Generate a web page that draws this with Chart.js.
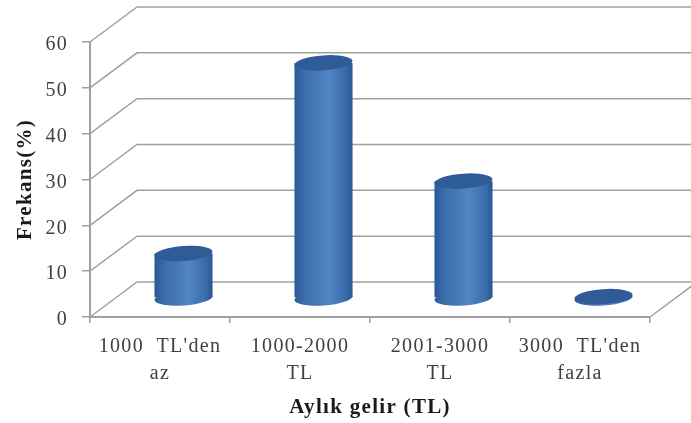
<!DOCTYPE html>
<html>
<head>
<meta charset="utf-8">
<style>
  html, body { margin: 0; padding: 0; background: #fff; }
  canvas { display: block; filter: blur(0.5px); }
</style>
<script src="https://cdn.jsdelivr.net/npm/chart.js@4"></script>
</head>
<body>
<canvas id="myChart" width="691" height="423"></canvas>
<script>
const categories = [["1000  TL'den", "az"], ["1000-2000", "TL"], ["2001-3000", "TL"], ["3000  TL'den", "fazla"]];
const frequencies = [9.7, 51.3, 25.5, 0.3];
const yTicks = [0, 10, 20, 30, 40, 50, 60];

const GRID_COLOR = "#a0a0a0";
const TEXT_COLOR = "#404040";
const depth = { x: 47, y: -35 };
const barShift = { x: 23.5, y: -19 };
const capHeight = 7.5;
const capTilt = -0.07;

const sideGradient = (ctx, x, width) => {
  const gradient = ctx.createLinearGradient(x - width / 2, 0, x + width / 2, 0);
  gradient.addColorStop(0, "#2b5b96");
  gradient.addColorStop(0.2, "#3d6fae");
  gradient.addColorStop(0.6, "#5285c5");
  gradient.addColorStop(0.88, "#3a6bab");
  gradient.addColorStop(1, "#2a5890");
  return gradient;
};

const spacingPlugin = {
  id: "spacing",
  beforeDraw(chart) {
    chart.ctx.letterSpacing = "1.3px";
  },
};

const wallPlugin = {
  id: "wall",
  beforeDatasetsDraw(chart) {
    const { ctx, scales, chartArea } = chart;
    ctx.save();
    ctx.strokeStyle = GRID_COLOR;
    ctx.lineWidth = 1.5;
    yTicks.forEach((tick) => {
      const y = scales.y.getPixelForValue(tick);
      ctx.beginPath();
      ctx.moveTo(chartArea.left, y);
      ctx.lineTo(chartArea.left + depth.x, y + depth.y);
      ctx.lineTo(chart.width, y + depth.y);
      ctx.stroke();
    });
    const floorY = scales.y.getPixelForValue(0);
    ctx.beginPath();
    ctx.moveTo(chartArea.right, floorY);
    ctx.lineTo(chartArea.right + depth.x, floorY + depth.y);
    ctx.stroke();
    ctx.restore();
  },
};

const cylinderPlugin = {
  id: "cylinder",
  beforeDatasetDraw(chart) {
    const { ctx, scales } = chart;
    ctx.save();
    ctx.translate(barShift.x, barShift.y);
    const base = scales.y.getPixelForValue(0);
    chart.getDatasetMeta(0).data.forEach((bar) => {
      ctx.beginPath();
      ctx.ellipse(bar.x, base, bar.width / 2, capHeight, capTilt, 0, Math.PI * 2);
      ctx.fillStyle = sideGradient(ctx, bar.x, bar.width);
      ctx.fill();
    });
  },
  afterDatasetDraw(chart) {
    const { ctx } = chart;
    chart.getDatasetMeta(0).data.forEach((bar) => {
      ctx.beginPath();
      ctx.ellipse(bar.x, bar.y, bar.width / 2, capHeight, capTilt, 0, Math.PI * 2);
      ctx.fillStyle = "#2f5c96";
      ctx.fill();
    });
    ctx.restore();
  },
};

const config = {
  type: "bar",
  data: {
    labels: categories,
    datasets: [
      {
        data: frequencies,
        borderWidth: 0,
        barPercentage: 0.83,
        categoryPercentage: 0.5,
        clip: false,
        backgroundColor: (context) => {
          const { chart, dataIndex } = context;
          if (!chart.chartArea) return "#4f81bd";
          const x = chart.scales.x.getPixelForValue(dataIndex);
          const width = chart.scales.x.width / categories.length * 0.415;
          return sideGradient(chart.ctx, x, width);
        },
      },
    ],
  },
  options: {
    responsive: false,
    animation: false,
    devicePixelRatio: 1,
    layout: { padding: { top: 42, right: 41, left: 0, bottom: 0 } },
    plugins: { legend: { display: false }, tooltip: { enabled: false } },
    scales: {
      x: {
        afterFit: (axis) => { axis.height = 106; },
        border: { color: GRID_COLOR, width: 2 },
        grid: { drawOnChartArea: false, color: GRID_COLOR, tickLength: 6, lineWidth: 1.5 },
        ticks: {
          color: TEXT_COLOR,
          padding: 10,
          maxRotation: 0,
          autoSkip: false,
          font: { family: "Liberation Serif", size: 20, lineHeight: 1.35 },
        },
        title: {
          display: true,
          text: "Aylık gelir (TL)",
          color: "#1a1a1a",
          padding: { top: 4, bottom: 3 },
          font: { family: "Liberation Serif", size: 21, weight: "bold" },
        },
      },
      y: {
        min: 0,
        max: 60,
        afterFit: (axis) => { axis.width = 90; },
        afterBuildTicks: (axis) => { axis.ticks = yTicks.map((value) => ({ value })); },
        border: { color: GRID_COLOR, width: 2 },
        grid: { drawOnChartArea: false, color: GRID_COLOR, tickLength: 8, lineWidth: 1.5 },
        ticks: {
          color: TEXT_COLOR,
          padding: 14,
          labelOffset: 3,
          font: { family: "Liberation Serif", size: 20 },
        },
        title: {
          display: true,
          text: "Frekans(%)",
          color: "#1a1a1a",
          padding: { top: 13, bottom: 4 },
          font: { family: "Liberation Serif", size: 21, weight: "bold" },
        },
      },
    },
  },
  plugins: [spacingPlugin, wallPlugin, cylinderPlugin],
};

const myChart = new Chart(document.getElementById("myChart"), config);
</script>
</body>
</html>
